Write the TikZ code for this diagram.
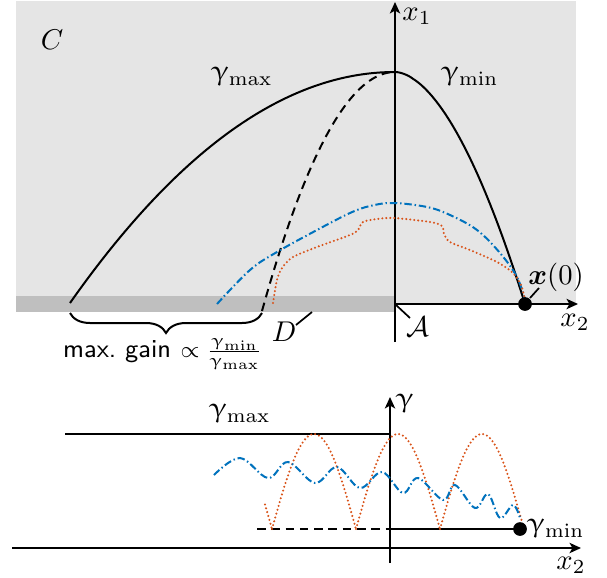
\documentclass[tikz,border=0pt]{standalone}
\usepackage{amsmath,amssymb}
\usepackage{upgreek}
\usetikzlibrary{arrows.meta,decorations.pathreplacing}
\definecolor{mblue}{RGB}{0,114,189}
\definecolor{morange}{RGB}{217,83,25}
\definecolor{lgrey}{RGB}{229,229,229}
\definecolor{dgrey}{RGB}{191,191,191}
\tikzset{
  axis/.style={line width=0.7pt,-{Stealth[length=4pt,width=3.6pt,inset=1pt]}},
  curve/.style={line width=0.7pt},
  dashcurve/.style={line width=0.7pt,dash pattern=on 3pt off 2pt},
  bluecurve/.style={line width=0.7pt,mblue,dash pattern=on 2.6pt off 1pt on 0.5pt off 1pt},
  orangecurve/.style={line width=0.8pt,morange,line cap=round,dash pattern=on 0pt off 1.4pt},
  leader/.style={line width=0.6pt},
  lbl/.style={inner sep=0pt}
}
\begin{document}
\begin{tikzpicture}[x=0.35pt,y=-0.35pt]
\useasboundingbox (0,0) rectangle (607,577);
% ---------- top panel ----------
\fill[lgrey] (16,1) rectangle (576,304);
\fill[dgrey] (16,296) rectangle (396,312);
\draw[axis] (395,342) -- (395,2);
\draw[axis] (395,304) -- (578,304);
\node[lbl] (x1) at (417,16) {$x_1$};
\node[lbl] (x2t) at (575,322) {$x_2$};
\node[lbl] (C) at (52,40) {$C$};
\node[lbl] (gmaxt) at (242,77) {$\upgamma_{\max}$};
\node[lbl] (gmint) at (470,77) {$\upgamma_{\min}$};
% black solid curve (gamma_max branch and gamma_min branch)
\draw[curve] plot[domain=70:395,samples=80] (\x,{72+231*((395-\x)/325)^2})
  -- plot[domain=395:525,samples=60] (\x,{72+232*((\x-395)/130)^1.8});
% dashed
\draw[dashcurve] plot[domain=262:392,samples=60] (\x,{72+239*((395-\x)/133)^2});
% blue
\draw[bluecurve] plot[smooth,tension=0.6] coordinates {(217,304) (250,270) (277,252) (317,230) (350,213) (370,206) (393,203) (427,207) (450,215) (477,230) (500,253) (517,277) (525,300)};
% orange
\draw[orangecurve] plot[smooth,tension=0.5] coordinates {(273,303) (277,280) (282,268) (293,257) (317,247) (350,235) (358,230) (363,222) (377,219) (394,218) (430,222) (442,226) (444,234) (450,242) (470,250) (497,262) (513,273) (521,285) (525,300)};
% x(0)
\fill (525,304) circle[radius=2.4pt];
\coordinate (x0a) at (530,298);
\coordinate (x0b) at (539,288);
\draw[leader] (x0a) -- (x0b);
\node[lbl] (x0) at (556,277) {$\boldsymbol{x}(0)$};
% A
\coordinate (Aa) at (396,305);
\coordinate (Ab) at (410,318);
\draw[leader] (Aa) -- (Ab);
\node[lbl] (A) at (418,327) {$\mathcal{A}$};
% D
\coordinate (Da) at (296,325);
\coordinate (Db) at (312,312);
\draw[leader] (Da) -- (Db);
\node[lbl] (D) at (284,332) {$D$};
% brace
\coordinate (bl) at (70,313);
\coordinate (br) at (262,313);
\draw[curve,decorate,decoration={brace,mirror,amplitude=7pt}] (bl) -- (br);
\node[lbl] (gain) at (163,354) {{\small\textsf{max.\ gain}} {\footnotesize$\propto \frac{\upgamma_{\min}}{\upgamma_{\max}}$}};
% ---------- bottom panel ----------
\draw[axis] (12,548) -- (581,548);
\draw[axis] (390,563) -- (390,397);
\node[lbl] (gam) at (405,404) {$\upgamma$};
\node[lbl] (x2b) at (571,565) {$x_2$};
\coordinate (gmaxl) at (65,434);
\coordinate (gmaxr) at (390,434);
\draw[curve] (gmaxl) -- (gmaxr);
\node[lbl] (gmaxb) at (240,414) {$\upgamma_{\max}$};
\coordinate (gminl) at (257,529);
\coordinate (gminm) at (390,529);
\coordinate (gminr) at (520,529);
\draw[dashcurve] (gminl) -- (gminm);
\draw[curve] (gminm) -- (gminr);
\fill (gminr) circle[radius=2.4pt];
\node[lbl] (gminb) at (556,529) {$\upgamma_{\min}$};
% orange arches
\draw[orangecurve] plot[domain=265:272,samples=6] (\x,{529-95*sin(180*(\x-188)/84)});
\draw[orangecurve] plot[domain=272:356,samples=50] (\x,{529-95*sin(180*(\x-272)/84)});
\draw[orangecurve] plot[domain=356:440,samples=50] (\x,{529-95*sin(180*(\x-356)/84)});
\draw[orangecurve] plot[domain=440:522,samples=50] (\x,{529-95*sin(180*(\x-440)/84)});
% blue wave
\draw[bluecurve] plot[smooth,tension=0.6] coordinates {(214,475) (240,458) (268,478) (288,462) (315,483) (337,467) (360,488) (382,472) (403,493) (418,478) (443,500) (455,485) (475,508) (488,494) (500,518) (513,505) (520,518)};
\end{tikzpicture}
\end{document}
